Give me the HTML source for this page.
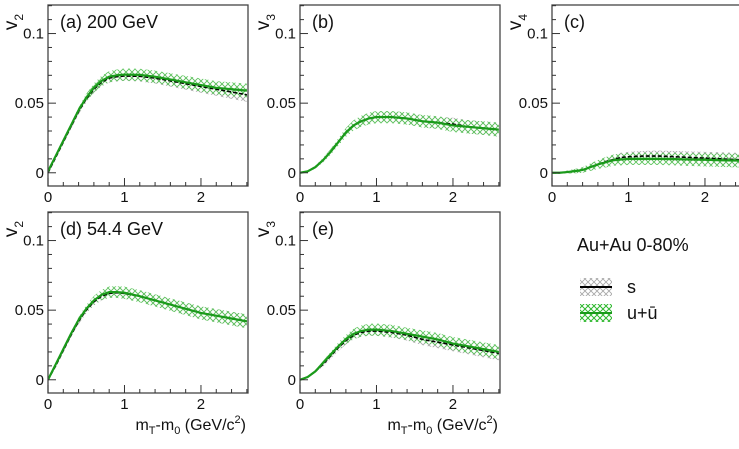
<!DOCTYPE html>
<html><head><meta charset="utf-8"><style>
body{margin:0;background:#fff;width:739px;height:444px;overflow:hidden;font-family:"Liberation Sans",sans-serif}
svg text{font-family:"Liberation Sans",sans-serif}
</style></head><body>
<svg id="c" width="739" height="444" viewBox="0 0 739 444">
<defs>
<pattern id="hg" width="6" height="6" patternUnits="userSpaceOnUse"><path d="M0,0L6,6M6,0L0,6" stroke="#a8a8a8" stroke-width="0.9" fill="none"/></pattern>
<pattern id="hv" width="6" height="6" patternUnits="userSpaceOnUse"><path d="M0,0L6,6M6,0L0,6" stroke="#5fc55f" stroke-width="0.9" fill="none"/></pattern>
</defs>
</svg>
<script>
const xs=[0,0.1,0.2,0.3,0.4,0.5,0.6,0.7,0.8,0.9,1.0,1.2,1.4,1.6,1.8,2.0,2.2,2.4,2.6];
const aS=[0,0.011,0.022,0.033,0.044,0.053,0.060,0.065,0.068,0.069,0.0695,0.0693,0.068,0.066,0.064,0.062,0.060,0.058,0.056];
const aU=[0.001,0.012,0.023,0.034,0.045,0.054,0.061,0.066,0.069,0.070,0.0705,0.0703,0.069,0.067,0.065,0.063,0.061,0.060,0.059];
const bS=[0,0.001,0.004,0.009,0.015,0.022,0.029,0.034,0.037,0.039,0.040,0.040,0.039,0.037,0.036,0.035,0.033,0.032,0.031];
const bU=[0,0.001,0.004,0.009,0.015,0.022,0.029,0.034,0.037,0.039,0.040,0.040,0.039,0.037,0.036,0.034,0.033,0.032,0.031];
const cS=[0,0,0.0005,0.0012,0.002,0.004,0.006,0.008,0.0095,0.011,0.0115,0.012,0.012,0.0115,0.011,0.0105,0.010,0.0095,0.009];
const cU=[0,0,0.0005,0.0012,0.002,0.004,0.006,0.0075,0.009,0.0095,0.010,0.010,0.010,0.0098,0.0095,0.0093,0.009,0.0088,0.0086];
const dS=[0,0.010,0.021,0.032,0.042,0.050,0.056,0.060,0.062,0.0625,0.062,0.060,0.057,0.054,0.051,0.048,0.046,0.044,0.042];
const dU=[0,0.011,0.022,0.033,0.043,0.051,0.057,0.061,0.063,0.063,0.0625,0.060,0.057,0.054,0.051,0.048,0.046,0.044,0.042];
const eS=[0,0.002,0.006,0.011,0.017,0.023,0.028,0.032,0.034,0.035,0.035,0.034,0.032,0.029,0.027,0.025,0.023,0.021,0.019];
const eU=[0,0.002,0.006,0.012,0.018,0.024,0.029,0.033,0.035,0.036,0.036,0.035,0.033,0.031,0.029,0.026,0.024,0.022,0.020];
const errS=[0,0.0005,0.001,0.0015,0.002,0.0024,0.0027,0.003,0.0032,0.0034,0.0035,0.0037,0.0039,0.0041,0.0043,0.0045,0.0047,0.0049,0.005];
const errU=[0,0.0005,0.001,0.0015,0.002,0.0027,0.0032,0.0037,0.004,0.0042,0.0044,0.0044,0.0044,0.0045,0.0046,0.0047,0.0048,0.0049,0.005];
const xTicks=["0","1","2"];
const yTicks=["0","0.05","0.1"];
const panels=[
 {id:"a",x0:48,y0:5,lab:"(a) 200 GeV",yl:"2",s:aS,u:aU,xt:false},
 {id:"b",x0:300,y0:5,lab:"(b)",yl:"3",s:bS,u:bU,xt:false},
 {id:"c",x0:552,y0:5,lab:"(c)",yl:"4",s:cS,u:cU,xt:false},
 {id:"d",x0:48,y0:212,lab:"(d) 54.4 GeV",yl:"2",s:dS,u:dU,xt:true},
 {id:"e",x0:300,y0:212,lab:"(e)",yl:"3",s:eS,u:eU,xt:true}
];
const NS="http://www.w3.org/2000/svg";
const svg=document.getElementById('c');
function mk(t,a,p){const e=document.createElementNS(NS,t);for(const k in a)e.setAttribute(k,a[k]);(p||svg).appendChild(e);return e;}
const W=200,H=181,XMAX=2.615,YMIN=-0.0095,YMAX=0.1205;
panels.forEach(P=>{
 const g=mk('g',{});
 
 
 const X=v=>P.x0+v/XMAX*W, Y=v=>P.y0+H-(v-YMIN)/(YMAX-YMIN)*H;
 const clip=mk('clipPath',{id:'cl'+P.id},g);mk('rect',{x:P.x0,y:P.y0,width:W,height:H},clip);
 const pg=mk('g',{'clip-path':'url(#cl'+P.id+')'},g);
 function band(v,err,fill,name){
  let up=xs.map((x,i)=>X(x)+','+Y(v[i]+err[i]));let lo=xs.map((x,i)=>X(x)+','+Y(v[i]-err[i])).reverse();
  const b=mk('polygon',{points:up.concat(lo).join(' '),fill:fill},pg);
  
  
 }
 function line(v,st,w,dash,name){
  const l=mk('polyline',{points:xs.map((x,i)=>X(x)+','+Y(v[i])).join(' '),fill:'none',stroke:st,'stroke-width':w,'stroke-dasharray':dash||'none'},pg);
  
  
 }
 band(P.s,errS,'url(#hg)','band-s');
 band(P.u,errU,'url(#hv)','band-u');
 line(P.s,'#000',1.6,'4,2','line-s');
 line(P.u,'#1a9a1a',2.2,null,'line-u');
 const fr=mk('rect',{x:P.x0,y:P.y0,width:W,height:H,fill:'none',stroke:'#444','stroke-width':1.3},g);
 
 
 for(let i=0;i<=13;i++){const v=i*0.2;if(v>XMAX)break;const len=(i%5==0)?8:4;mk('line',{x1:X(v),x2:X(v),y1:P.y0+H,y2:P.y0+H-len,stroke:'#333','stroke-width':1},g);}
 for(let i=-0;i<=12;i++){const v=i*0.01;const len=(i%5==0)?8:4;mk('line',{x1:P.x0,x2:P.x0+len,y1:Y(v),y2:Y(v),stroke:'#333','stroke-width':1},g);}
 xTicks.forEach((t,i)=>{const e=mk('text',{x:X(i),y:P.y0+H+16,'font-size':15,'text-anchor':'middle',fill:'#111'},g);e.textContent=t;
  });
 yTicks.forEach((t,i)=>{const e=mk('text',{x:P.x0-4,y:Y(i*0.05)+5,'font-size':15,'text-anchor':'end',fill:'#111'},g);e.textContent=t;
  });
 const yl=mk('text',{transform:`translate(${P.x0-31},${P.y0+17}) rotate(-90)`,'font-size':19,'text-anchor':'middle',fill:'#111'},g);
 yl.innerHTML='v<tspan font-size="12" dy="6">'+P.yl+'</tspan>';
 
 const pl=mk('text',{x:P.x0+12,y:P.y0+23,'font-size':18,fill:'#111'},g);pl.textContent=P.lab;
 
 if(P.xt){const t=mk('text',{x:P.x0+W-2,y:P.y0+H+37,'font-size':16,'text-anchor':'end',fill:'#111'},g);
  t.innerHTML='m<tspan font-size="11" dy="4">T</tspan><tspan dy="-4">-m</tspan><tspan font-size="11" dy="4">0</tspan><tspan dy="-4"> (GeV/c</tspan><tspan font-size="11" dy="-7">2</tspan><tspan dy="7">)</tspan>';
  }
});
</script>
<svg width="739" height="444" style="position:absolute;left:0;top:0">
<defs>
<pattern id="lg" width="6" height="6" patternUnits="userSpaceOnUse"><path d="M0,0L6,6M6,0L0,6" stroke="#a8a8a8" stroke-width="0.9" fill="none"/></pattern>
<pattern id="lv" width="6" height="6" patternUnits="userSpaceOnUse"><path d="M0,0L6,6M6,0L0,6" stroke="#2eb82e" stroke-width="1" fill="none"/></pattern>
</defs>
<text x="577" y="251" font-size="18" fill="#111">Au+Au 0-80%</text>
<g>
<rect x="580" y="278" width="32" height="18" fill="url(#lg)"/><line x1="580" y1="287" x2="612" y2="287" stroke="#000" stroke-width="2"/>
<text x="627" y="293" font-size="18" fill="#111">s</text></g>
<g>
<rect x="580" y="304" width="32" height="18" fill="url(#lv)"/><line x1="580" y1="313" x2="612" y2="313" stroke="#1a9a1a" stroke-width="2"/>
<text x="627" y="319" font-size="18" fill="#111">u+ū</text></g>
</svg>
</body></html>
